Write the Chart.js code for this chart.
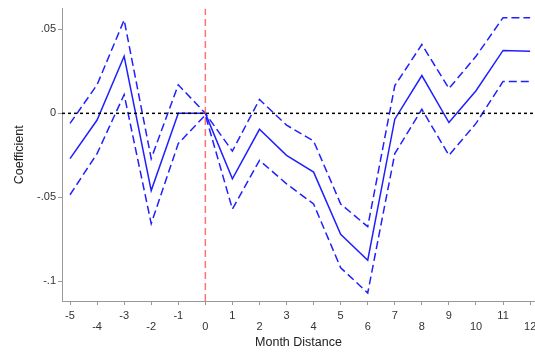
<!DOCTYPE html>
<html>
<head>
<meta charset="utf-8">
<title>Event study coefficients</title>
<script src="https://cdn.jsdelivr.net/npm/chart.js@4"></script>
<style>
  html, body { margin: 0; padding: 0; background: #fff; }
  #wrap { width: 535px; height: 353px; }
</style>
</head>
<body>
<div id="wrap"><canvas id="eventChart"></canvas></div>
<script>
// months relative to the event and the estimated coefficients
const months = [-5, -4, -3, -2, -1, 0, 1, 2, 3, 4, 5, 6, 7, 8, 9, 10, 11, 12];
const coef = [-0.027, -0.004, 0.034, -0.046, 0, 0, -0.039, -0.0095, -0.025, -0.035, -0.072, -0.0875, -0.0035, 0.0225, -0.0055, 0.0135, 0.0375, 0.037];
const upper = [-0.006, 0.017, 0.0556, -0.027, 0.017, 0, -0.0225, 0.0083, -0.007, -0.0165, -0.054, -0.0675, 0.0165, 0.041, 0.0148, 0.034, 0.057, 0.057];
const lower = [-0.0485, -0.024, 0.0112, -0.0657, -0.018, -0.001, -0.057, -0.028, -0.042, -0.054, -0.092, -0.107, -0.024, 0.0024, -0.025, -0.006, 0.019, 0.019];

const xTicks = [-5, -4, -3, -2, -1, 0, 1, 2, 3, 4, 5, 6, 7, 8, 9, 10, 11, 12];
const yTicks = [-0.1, -0.05, 0, 0.05];
const xRange = [-5.296, 12.18];
const yRange = [-0.1118, 0.0624];
const eventMonth = 0;

const toPoints = (values) => months.map((m, i) => ({ x: m, y: values[i] }));

// Stata-style labels: ".05", "-.1"
const fmtCoef = (v) => {
    if (v === 0) return '0';
    const s = String(Math.round(v * 1000) / 1000);
    return s.replace('0.', '.');
};

const blue = '#2020ff';
const font = { family: "'Liberation Sans', Arial, sans-serif", size: 11 };

new Chart(document.getElementById('eventChart'), {
    type: 'line',
    data: {
        datasets: [
            {
                data: [{ x: xRange[0], y: 0 }, { x: xRange[1], y: 0 }],
                borderColor: '#000',
                borderWidth: 1.5,
                borderDash: [3, 3],
                pointRadius: 0
            },
            {
                data: [{ x: eventMonth, y: yRange[0] }, { x: eventMonth, y: yRange[1] }],
                borderColor: 'rgba(255, 80, 80, 0.8)',
                borderWidth: 1.5,
                borderDash: [7, 4],
                pointRadius: 0
            },
            {
                data: toPoints(upper),
                borderColor: blue,
                borderWidth: 1.5,
                borderDash: [8, 4],
                pointRadius: 0,
                tension: 0
            },
            {
                data: toPoints(lower),
                borderColor: blue,
                borderWidth: 1.5,
                borderDash: [8, 4],
                pointRadius: 0,
                tension: 0
            },
            {
                data: toPoints(coef),
                borderColor: blue,
                borderWidth: 1.5,
                pointRadius: 0,
                tension: 0
            }
        ]
    },
    options: {
        responsive: true,
        maintainAspectRatio: false,
        animation: false,
        layout: { padding: { top: 7, left: 0, right: 0, bottom: 0 } },
        plugins: {
            legend: { display: false },
            tooltip: { enabled: false }
        },
        scales: {
            x: {
                type: 'linear',
                min: xRange[0],
                max: xRange[1],
                afterBuildTicks: (scale) => {
                    scale.ticks = xTicks.map((v) => ({ value: v }));
                },
                afterFit: (scale) => {
                    scale.height = 52;
                    scale.paddingLeft = 0;
                    scale.paddingRight = 0;
                },
                grid: { drawOnChartArea: false, drawTicks: true, tickLength: 4, color: '#999' },
                border: { display: true, color: '#999', width: 1 },
                ticks: {
                    autoSkip: false,
                    maxRotation: 0,
                    padding: 5,
                    color: '#333',
                    font: { ...font, lineHeight: 1.05 },
                    // even months drop to a second row
                    callback: (v) => (Math.abs(v) % 2 === 0 ? ['', String(v)] : String(v))
                },
                title: {
                    display: true,
                    text: 'Month Distance',
                    color: '#222',
                    font: { ...font, size: 12.5 },
                    padding: { top: 0, bottom: 3 }
                }
            },
            y: {
                min: yRange[0],
                max: yRange[1],
                afterBuildTicks: (scale) => {
                    scale.ticks = yTicks.map((v) => ({ value: v }));
                },
                afterFit: (scale) => {
                    scale.width = 62;
                },
                grid: { drawOnChartArea: false, drawTicks: true, tickLength: 4, color: '#999' },
                border: { display: true, color: '#999', width: 1 },
                ticks: {
                    padding: 2,
                    color: '#333',
                    font: font,
                    callback: (v) => fmtCoef(v)
                },
                title: {
                    display: true,
                    text: 'Coefficient',
                    color: '#222',
                    font: { ...font, size: 12.5 },
                    padding: { top: 12, bottom: 0 }
                }
            }
        }
    }
});
</script>
</body>
</html>
